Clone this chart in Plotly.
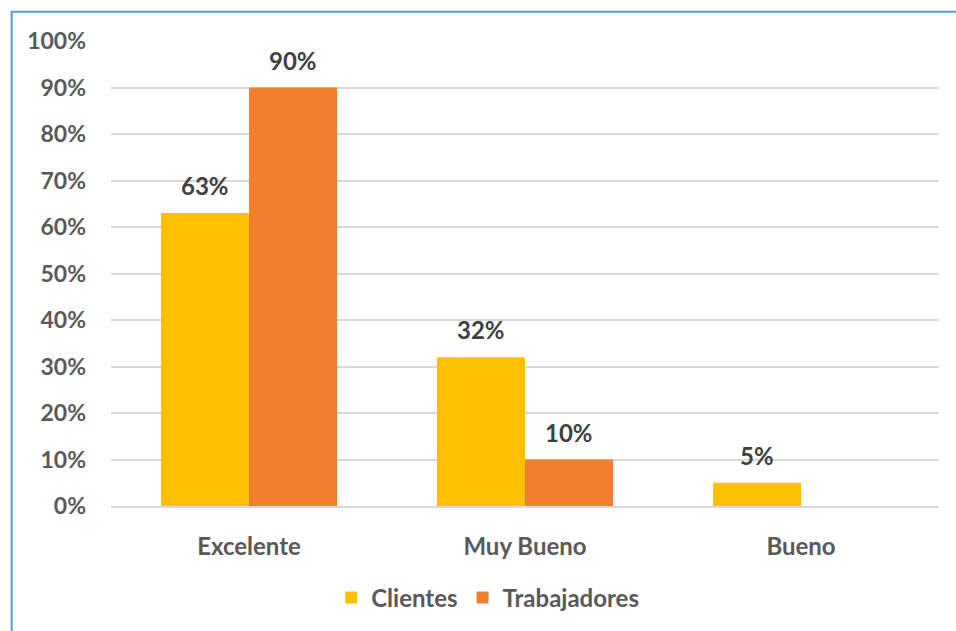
import plotly.graph_objects as go

categories = ["Excelente", "Muy Bueno", "Bueno"]
clientes = [0.63, 0.32, 0.05]
trabajadores = [0.90, 0.10, 0.0]
tick_vals = [0, 0.1, 0.2, 0.3, 0.4, 0.5, 0.6, 0.7, 0.8, 0.9, 1.0]
tick_text = ["0%", "10%", "20%", "30%", "40%", "50%", "60%", "70%", "80%", "90%", "100%"]

FONT = "Lato"
YELLOW = "#FFC000"
ORANGE = "#F07F2E"

fig = go.Figure()
fig.add_trace(go.Bar(name="Clientes", x=categories, y=clientes,
                     marker=dict(color=YELLOW, line=dict(width=0))))
fig.add_trace(go.Bar(name="Trabajadores", x=categories, y=trabajadores,
                     marker=dict(color=ORANGE, line=dict(width=0))))

# value labels above each bar (skip empty bars)
for vals, shift in ((clientes, -44), (trabajadores, 44)):
    for cat, v in zip(categories, vals):
        if v <= 0:
            continue
        fig.add_annotation(x=cat, y=v, xref="x", yref="y", text=f"{v*100:.0f}%",
                           showarrow=False, xshift=shift, yshift=11, yanchor="bottom",
                           font=dict(family=FONT, size=24, color="#404040", weight="bold"))

# outer frame
fig.add_shape(type="rect", xref="paper", yref="paper", x0=-0.12, x1=1.2, y0=-0.5, y1=1.063,
              line=dict(color="#5B9BD5", width=2), fillcolor="rgba(0,0,0,0)", layer="below")

fig.update_layout(
    width=956, height=631,
    margin=dict(l=111, r=17, t=41, b=124),
    plot_bgcolor="white", paper_bgcolor="white",
    barmode="group", bargap=0.362, bargroupgap=0,
    font=dict(family=FONT, size=24, color="#595959"),
    showlegend=True,
    legend=dict(orientation="h", x=0.455, xanchor="center", y=-0.195, yanchor="middle",
                font=dict(family=FONT, size=24, color="#595959", weight="bold"),
                traceorder="normal", itemwidth=30),
)
fig.update_xaxes(showgrid=False, showline=True, linecolor="#D9D9D9", linewidth=2,
                 ticks="", ticklabelstandoff=18,
                 tickfont=dict(family=FONT, size=24, color="#595959", weight="bold"))
fig.update_yaxes(range=[0, 1.0], tickvals=tick_vals, ticktext=tick_text,
                 showgrid=True, gridcolor="#D9D9D9", gridwidth=2, zeroline=False,
                 showline=False, ticks="", ticklabelstandoff=24,
                 tickfont=dict(family=FONT, size=23, color="#595959", weight="bold"))

fig.write_html("out.html")
